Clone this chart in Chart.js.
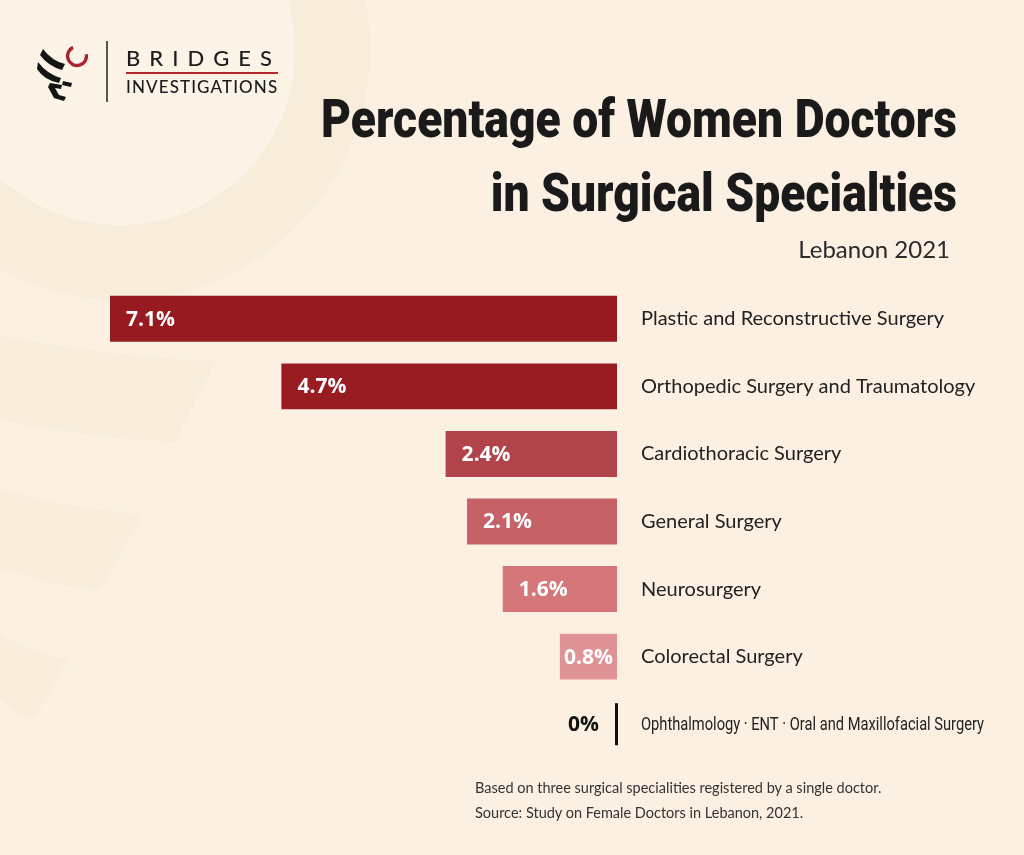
<!DOCTYPE html>
<html>
<head>
<meta charset="utf-8">
<script src="https://cdn.jsdelivr.net/npm/chart.js@4.4.1/dist/chart.umd.min.js"></script>
<style>
  html, body { margin: 0; padding: 0; background: #fbf0e1; }
  #wrap { position: relative; width: 1024px; height: 855px; overflow: hidden; }
  #chart { position: absolute; left: 0; top: 0; }
  .txt { position: absolute; color: #1c1c1c; white-space: nowrap; }
  #title { right: 67px; top: 82px; text-align: right; font: 900 53px/74px Roboto, sans-serif; color: #1a1a1a; transform-origin: right top; }
  #sub { right: 74px; top: 234px; font: 24px Lato, "Noto Sans", sans-serif; color: #2a2a2a; }
  #note { left: 475px; top: 775px; font: 14.5px/25px Lato, "Noto Sans", sans-serif; color: #333; }
  #logo { position: absolute; left: 30px; top: 35px; }
  #brand1 { left: 126px; top: 44px; font: 500 22px Lato, sans-serif; letter-spacing: 9px; color: #1c1c1c; }
  #brand2 { left: 126px; top: 76px; font: 500 17px Lato, sans-serif; letter-spacing: 1.1px; color: #1c1c1c; }
  #rule { position: absolute; left: 126px; top: 72px; width: 152px; height: 2px; background: #b3262b; }
  #vbar { position: absolute; left: 106px; top: 41px; width: 1.5px; height: 61px; background: #555; }
</style>
</head>
<body>
<div id="wrap">
  <canvas id="chart" width="1024" height="855"></canvas>
  <svg id="logo" width="70" height="75" viewBox="0 0 70 75">
    <path d="M43 12.4 A9.5 9.5 0 1 0 56.4 19.3" fill="none" stroke="#a8262b" stroke-width="3.4"/>
    <path d="M13 14 Q22 26 35 29 L32 35 Q18 31 10 20 Z" fill="#151515"/>
    <path d="M8 27 Q17 39 31 43 L29 48 Q14 45 7 34 Z" fill="#151515"/>
    <path d="M20 48 L32 50 L31 54 L25 53 L29 60 L36 62 L34 66 L24 63 L18 52 Z" fill="#151515"/>
    <path d="M33 46 L42 48 L41 52 L32 50 Z" fill="#151515"/>
  </svg>
  <div id="vbar"></div>
  <div class="txt" id="brand1">BRIDGES</div>
  <div id="rule"></div>
  <div class="txt" id="brand2">INVESTIGATIONS</div>
  <div class="txt" id="title">Percentage of Women Doctors<br>in Surgical Specialties</div>
  <div class="txt" id="sub">Lebanon 2021</div>
  <div class="txt" id="note">Based on three surgical specialities registered by a single doctor.<br>Source: Study on Female Doctors in Lebanon, 2021.</div>
</div>
<script>
const specialties = [
  'Plastic and Reconstructive Surgery',
  'Orthopedic Surgery and Traumatology',
  'Cardiothoracic Surgery',
  'General Surgery',
  'Neurosurgery',
  'Colorectal Surgery',
  'Ophthalmology \u00b7 ENT \u00b7 Oral and Maxillofacial Surgery'
];
const percentWomen = [7.1, 4.7, 2.4, 2.1, 1.6, 0.8, 0];
const valueLabels = ['7.1%', '4.7%', '2.4%', '2.1%', '1.6%', '0.8%', '0%'];
const barColors = ['#961a1f', '#981c21', '#b0444a', '#c66267', '#d5777a', '#df9396', '#000000'];

// the title font is condensed by squeezing it to the reference width
const titleEl = document.getElementById('title');
titleEl.style.transform = 'scaleX(' + (636 / titleEl.offsetWidth) + ')';

// faint background decoration, drawn under the bars
const backdrop = {
    id: 'backdrop',
    beforeDraw(chart) {
        const ctx = chart.ctx;
        ctx.save();
        ctx.fillStyle = '#fbf0e1';
        ctx.fillRect(0, 0, chart.width, chart.height);
        ctx.fillStyle = '#f8ecdb';
        ctx.beginPath();
        ctx.arc(120, 50, 250, 0, Math.PI * 2);
        ctx.arc(120, 50, 175, 0, Math.PI * 2, true);
        ctx.fill();
        ctx.fillStyle = '#fcf3e7';
        ctx.beginPath();
        ctx.arc(120, 50, 175, 0, Math.PI * 2);
        ctx.fill();
        ctx.fillStyle = '#f8ecdb';
        const bands = [[335, 442, 215, 175], [488, 590, 143, 100], [633, 720, 68, 34]];
        bands.forEach(([y0, y1, xr0, xr1]) => {
            ctx.beginPath();
            ctx.moveTo(0, y0);
            ctx.quadraticCurveTo(xr0 * 0.5, y0 + 22, xr0, y0 + 26);
            ctx.lineTo(xr1, y1);
            ctx.quadraticCurveTo(xr1 * 0.5, y1 - 4, 0, y1 - 22);
            ctx.closePath();
            ctx.fill();
        });
        ctx.restore();
    }
};

// percentage labels inside bars, and the marker and label for the zero row
const barLabels = {
    id: 'barLabels',
    afterDatasetsDraw(chart) {
        const ctx = chart.ctx;
        const meta = chart.getDatasetMeta(0);
        ctx.save();
        ctx.textBaseline = 'middle';
        ctx.font = 'bold 21px "Open Sans", sans-serif';
        meta.data.forEach((bar, i) => {
            const left = Math.min(bar.x, bar.base);
            const w = Math.abs(bar.base - bar.x);
            if (percentWomen[i] > 0) {
                const tw = ctx.measureText(valueLabels[i]).width;
                ctx.fillStyle = '#ffffff';
                ctx.textAlign = 'left';
                ctx.fillText(valueLabels[i], left + Math.min(16, (w - tw) / 2), bar.y + 1);
            } else {
                ctx.fillStyle = '#111111';
                ctx.fillRect(bar.base - 2, bar.y - 21, 3, 42);
                ctx.textAlign = 'right';
                ctx.fillText(valueLabels[i], bar.base - 18, bar.y + 1);
                // condensed label for the zero row
                ctx.save();
                ctx.font = '19px Roboto, sans-serif';
                ctx.fillStyle = '#222222';
                ctx.textAlign = 'left';
                const lw = ctx.measureText(specialties[i]).width;
                const sx = Math.min(1, 343 / lw);
                ctx.translate(bar.base + 24, bar.y + 1);
                ctx.scale(sx, 1);
                ctx.fillText(specialties[i], 0, 0);
                ctx.restore();
            }
        });
        ctx.restore();
    }
};

new Chart(document.getElementById('chart'), {
    type: 'bar',
    data: {
        labels: specialties,
        datasets: [{
            data: percentWomen,
            backgroundColor: barColors,
            borderWidth: 0,
            barPercentage: 0.68,
            categoryPercentage: 1
        }]
    },
    options: {
        indexAxis: 'y',
        responsive: false,
        animation: false,
        devicePixelRatio: 1,
        layout: { padding: { left: 110, top: 285, bottom: 97, right: 0 } },
        plugins: { legend: { display: false }, tooltip: { enabled: false } },
        scales: {
            x: { display: false, reverse: true, min: 0, max: 7.1 },
            y: {
                position: 'right',
                grid: { display: false, drawTicks: false },
                border: { display: false },
                afterFit(scale) { scale.width = 407; },
                ticks: {
                    padding: 24,
                    color: ctx => ctx.index === 6 ? 'rgba(0,0,0,0)' : '#222222',
                    font: { family: 'Lato, "Noto Sans", sans-serif', size: 20 }
                }
            }
        }
    },
    plugins: [backdrop, barLabels]
});
</script>
</body>
</html>
